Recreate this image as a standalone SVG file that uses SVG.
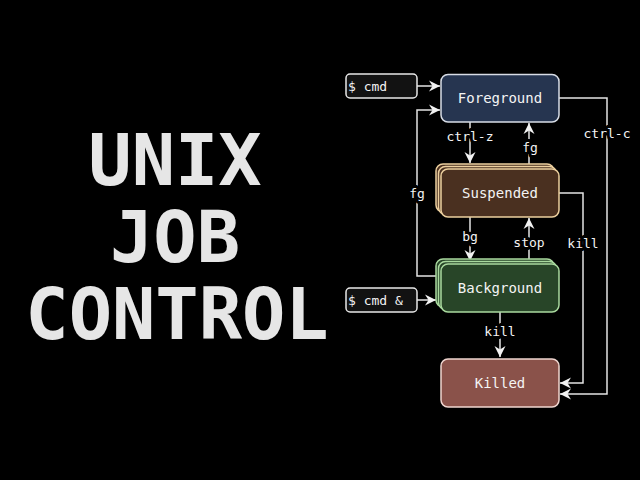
<svg xmlns="http://www.w3.org/2000/svg" width="640" height="480" viewBox="0 0 640 480">
<defs>
<marker id="ah" markerUnits="userSpaceOnUse" markerWidth="12" markerHeight="12" viewBox="0 0 12 12" refX="11" refY="6" orient="auto">
<path d="M0,0.5 L11,6 L0,11.5 L3.5,6 Z" fill="#f2f2f2"/>
</marker>
<style>
.title{font-family:"DejaVu Sans Mono","Liberation Mono",monospace;font-size:72px;font-weight:bold;fill:#e6e6e6;text-anchor:middle}
.lbl{font-family:"DejaVu Sans Mono","Liberation Mono",monospace;font-size:14px;fill:#f4f4f4;text-anchor:middle;dominant-baseline:central}
.el{font-family:"DejaVu Sans Mono","Liberation Mono",monospace;font-size:13px;fill:#f4f4f4;text-anchor:middle;dominant-baseline:central;paint-order:stroke;stroke:#000;stroke-width:6px;stroke-linejoin:round}
.cmd{font-family:"DejaVu Sans Mono","Liberation Mono",monospace;font-size:13px;fill:#f4f4f4;dominant-baseline:central}
.cl{fill:none;stroke:#e4e4e4;stroke-width:1.5}
.fg{fill:#263550;stroke:#d8dde6;stroke-width:1.5}
.su{fill:#4a3020;stroke:#eccf9e;stroke-width:1.5}
.bg{fill:#284528;stroke:#a9d99e;stroke-width:1.5}
.ki{fill:#8a524a;stroke:#f0d6d0;stroke-width:1.5}
.cb{fill:#121212;stroke:#e8e8e8;stroke-width:1.5}
</style>
</defs>
<rect width="640" height="480" fill="#000"/>
<g id="title">
<text class="title" x="175" y="185">UNIX</text>
<text class="title" x="175" y="262">JOB</text>
<text class="title" x="177" y="339">CONTROL</text>
</g>
<g id="connectors">
<path class="cl" d="M417,86 L440,86" marker-end="url(#ah)"/>
<path class="cl" d="M436,276 L417,276 L417,110 L440,110" marker-end="url(#ah)"/>
<path class="cl" d="M470,122 L470,163" marker-end="url(#ah)"/>
<path class="cl" d="M529,165 L529,123" marker-end="url(#ah)"/>
<path class="cl" d="M559,193 L583,193 L583,383 L560,383" marker-end="url(#ah)"/>
<path class="cl" d="M559,98 L607,98 L607,394 L560,394" marker-end="url(#ah)"/>
<path class="cl" d="M470,217 L470,261" marker-end="url(#ah)"/>
<path class="cl" d="M529,260 L529,218" marker-end="url(#ah)"/>
<path class="cl" d="M417,300 L436,300" marker-end="url(#ah)"/>
<path class="cl" d="M500,312 L500,357" marker-end="url(#ah)"/>
<text class="el" x="470" y="136">ctrl-z</text>
<text class="el" x="530" y="147">fg</text>
<text class="el" x="417" y="193">fg</text>
<text class="el" x="607" y="133">ctrl-c</text>
<text class="el" x="470" y="236">bg</text>
<text class="el" x="529" y="242">stop</text>
<text class="el" x="583" y="243">kill</text>
<text class="el" x="500" y="331">kill</text>
</g>
<g id="cmd">
<rect class="cb" x="346" y="74" width="71" height="24" rx="4"/>
<text class="cmd" x="348" y="86">$ cmd</text>
</g>
<g id="cmdbg">
<rect class="cb" x="346" y="288" width="71" height="24" rx="4"/>
<text class="cmd" x="348" y="300">$ cmd &amp;</text>
</g>
<g id="foreground">
<rect class="fg" x="441" y="74.5" width="118" height="47.5" rx="7"/>
<text class="lbl" x="500" y="98">Foreground</text>
</g>
<g id="suspended">
<rect class="su" x="436" y="164" width="118" height="48" rx="7"/>
<rect class="su" x="438.5" y="166.5" width="118" height="48" rx="7"/>
<rect class="su" x="441" y="169" width="118" height="48" rx="7"/>
<text class="lbl" x="500" y="193">Suspended</text>
</g>
<g id="background">
<rect class="bg" x="436" y="259" width="118" height="48" rx="7"/>
<rect class="bg" x="438.5" y="261.5" width="118" height="48" rx="7"/>
<rect class="bg" x="441" y="264" width="118" height="48" rx="7"/>
<text class="lbl" x="500" y="288">Background</text>
</g>
<g id="killed">
<rect class="ki" x="441" y="359" width="118" height="48" rx="7"/>
<text class="lbl" x="500" y="383">Killed</text>
</g>
</svg>
